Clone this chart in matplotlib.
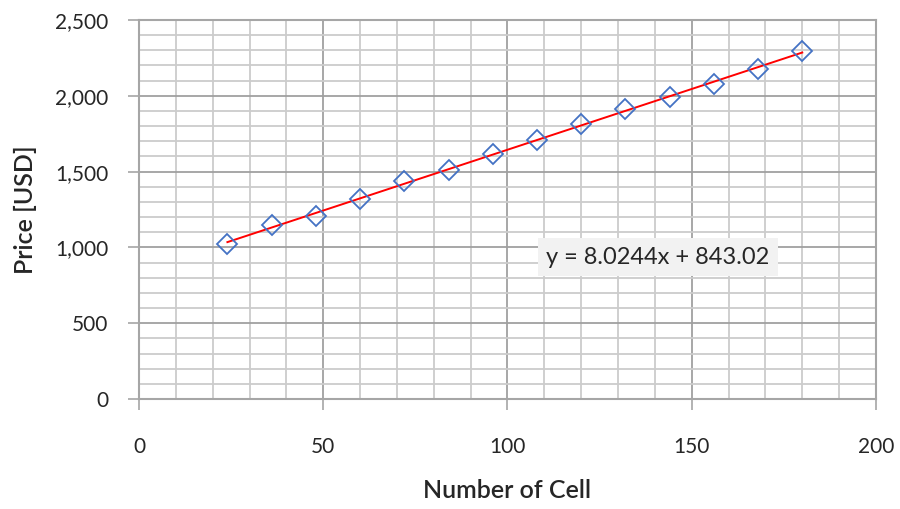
import numpy as np
import matplotlib
matplotlib.use('agg')
import matplotlib.pyplot as plt
from matplotlib.ticker import MultipleLocator, FuncFormatter

# data
cells = [24, 36, 48, 60, 72, 84, 96, 108, 120, 132, 144, 156, 168, 180]
price = [1024, 1147, 1207, 1322, 1437, 1511, 1617, 1709, 1813, 1910, 1993, 2081, 2174, 2297]
eq_text = 'y = 8.0244x + 843.02'

plt.rcParams['font.family'] = ['Lato', 'DejaVu Sans']

fig = plt.figure(figsize=(9, 5.09), dpi=100)
ax = fig.add_axes([0.1544, 0.2161, 0.8189, 0.7446])

x = np.array(cells)
y = np.array(price)
slope, icpt = np.polyfit(x, y, 1)
xf = np.array([x.min(), x.max()])
ax.plot(xf, slope * xf + icpt, color='#ff0000', lw=1.4, zorder=3)
ax.plot(x, y, linestyle='none', marker='D', ms=10, mfc='none',
        mec='#4472c4', mew=1.3, zorder=4)

ax.set_xlim(0, 200)
ax.set_ylim(0, 2500)
ax.xaxis.set_major_locator(MultipleLocator(50))
ax.xaxis.set_minor_locator(MultipleLocator(10))
ax.yaxis.set_major_locator(MultipleLocator(500))
ax.yaxis.set_minor_locator(MultipleLocator(100))
ax.yaxis.set_major_formatter(FuncFormatter(lambda v, p: f'{v:,.0f}'))

ax.grid(which='minor', color='#cccccc', lw=1.3, zorder=0)
ax.grid(which='major', color='#a0a0a0', lw=1.3, zorder=1)
ax.set_axisbelow(True)

for s in ax.spines.values():
    s.set_color('#a6a6a6')
    s.set_linewidth(1.5)
ax.tick_params(which='major', length=8, width=1.2, color='#a6a6a6',
               labelsize=15, labelcolor='#262626')
ax.tick_params(axis='x', pad=19)
ax.tick_params(axis='y', pad=14)
ax.tick_params(which='minor', length=0)

ax.set_xlabel('Number of Cell', fontsize=18, fontweight='semibold', color='#262626', labelpad=16)
ax.set_ylabel('Price [USD]', fontsize=18, fontweight='semibold', color='#262626', labelpad=13)

ax.text(140.8, 936, eq_text, fontsize=17, color='#262626', ha='center', va='center',
        bbox=dict(boxstyle='square,pad=0.35', fc='#f2f2f2', ec='none'), zorder=5)

fig.savefig('out.png', dpi=100)
